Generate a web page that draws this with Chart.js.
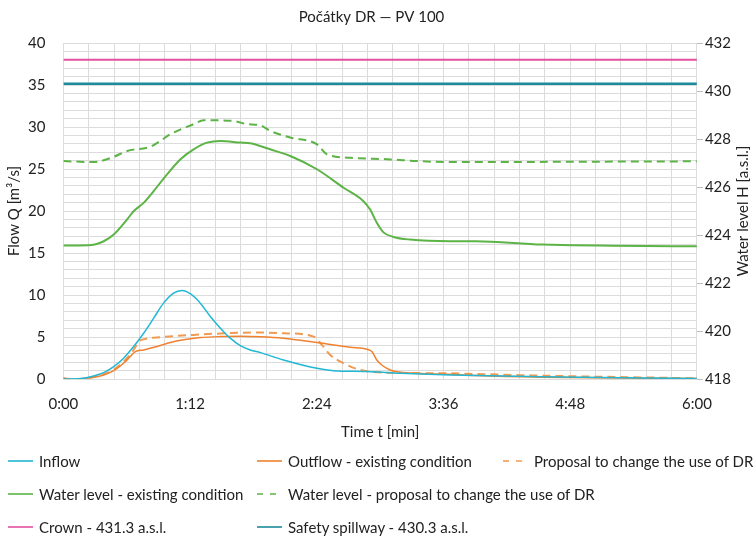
<!DOCTYPE html>
<html>
<head>
<meta charset="utf-8">
<script src="https://cdn.jsdelivr.net/npm/chart.js@4/dist/chart.umd.min.js"></script>
<style>
  body { margin: 0; background: #fff; }
  #wrap { position: relative; width: 755px; height: 537px; }
  #legend { position: absolute; left: 0; top: 0; width: 755px; height: 537px; pointer-events: none;
            font-family: Lato, sans-serif; font-size: 15px; color: #222; }
  .item { position: absolute; display: flex; align-items: center; white-space: nowrap; }
  .item svg { margin-right: 6px; }
</style>
</head>
<body>
<div id="wrap">
  <canvas id="myChart" width="755" height="537"></canvas>
  <div id="legend"></div>
</div>
<script>
// time axis (minutes) - gridline every 14.4 min, label every 72 min
let xTickLabels = ['0:00', '1:12', '2:24', '3:36', '4:48', '6:00'];

// Inflow [m3/s]
let inflowT = [0, 9.7, 17.2, 22.9, 28.6, 34.2, 39.9, 45.6, 51.3, 56.9, 62.6, 67.4, 72.1, 77.8, 83.5, 89.2, 94.8, 100.5, 106.2, 111.9, 125.1, 144.1, 153.5, 172.5, 191.4, 219.8, 272, 360];
let inflowQ = [0, 0.05, 0.36, 0.76, 1.47, 2.47, 3.86, 5.45, 7.24, 9.03, 10.23, 10.55, 10.15, 9.03, 7.44, 6.05, 4.86, 3.98, 3.46, 3.14, 2.27, 1.27, 0.99, 0.88, 0.68, 0.48, 0.28, 0.05];

// Outflow - existing condition [m3/s]
let outflowT = [0, 5.8, 17.2, 22.9, 28.6, 34.2, 38.0, 40.9, 45.6, 53.2, 60.8, 68.3, 77.8, 89.2, 100.5, 111.9, 125.1, 144.1, 163.0, 172.5, 175.3, 178.1, 180.9, 185.7, 193.3, 219.8, 234, 272, 360];
let outflowQ = [0.08, -0.05, 0.2, 0.48, 0.99, 1.87, 2.67, 3.26, 3.46, 3.86, 4.34, 4.66, 4.93, 5.05, 5.08, 5.03, 4.86, 4.34, 3.78, 3.54, 3.26, 2.27, 1.67, 1.07, 0.76, 0.56, 0.42, 0.22, 0.05];

// Outflow - proposal to change the use of DR [m3/s]
let proposalT = [0, 5.8, 17.2, 22.9, 28.6, 34.2, 39.9, 42.8, 46.6, 55.1, 74.0, 92.9, 111.9, 125.1, 142.2, 146.9, 151.6, 159.2, 168.7, 181.9, 219.8, 234, 272, 360];
let proposalQ = [0.08, -0.05, 0.25, 0.55, 1.1, 2.07, 3.46, 4.46, 4.78, 4.98, 5.25, 5.45, 5.53, 5.45, 5.05, 4.06, 2.87, 1.87, 1.07, 0.76, 0.68, 0.6, 0.4, 0.08];

// Water level - existing condition [m a.s.l.]
let levelT = [0, 14.2, 22.9, 28.6, 36.2, 39.9, 45.6, 51.3, 58.9, 66.4, 74.0, 81.6, 89.2, 100.5, 106.2, 117.5, 128.9, 144.1, 159.2, 170.5, 174.3, 178.1, 181.9, 187.6, 197, 219.8, 234, 272, 360];
let levelH = [423.56, 423.57, 423.74, 424.02, 424.65, 424.99, 425.34, 425.83, 426.53, 427.15, 427.57, 427.85, 427.92, 427.85, 427.82, 427.57, 427.29, 426.74, 425.97, 425.41, 425.06, 424.51, 424.11, 423.92, 423.81, 423.74, 423.74, 423.6, 423.53];

// Water level - proposal to change the use of DR [m a.s.l.]
let levelPropT = [0, 17.2, 28, 36.2, 49.4, 55.1, 60.8, 74.0, 79.7, 96.7, 104.3, 111.9, 117.5, 128.9, 144.1, 149.8, 163, 185.7, 200.9, 219.8, 360];
let levelPropH = [427.08, 427.04, 427.24, 427.50, 427.68, 427.92, 428.20, 428.62, 428.78, 428.75, 428.62, 428.57, 428.34, 428.06, 427.78, 427.36, 427.22, 427.15, 427.08, 427.04, 427.07];

let crownH = 431.3;
let spillwayH = 430.3;

function pts(xs, ys) {
  return xs.map(function (x, i) { return { x: x, y: ys[i] }; });
}

Chart.defaults.font.family = 'Lato, sans-serif';
Chart.defaults.color = '#222';

let datasets = [
  { label: 'Inflow', data: pts(inflowT, inflowQ), borderColor: '#22b7d3', borderWidth: 1.5, yAxisID: 'y' },
  { label: 'Outflow - existing condition', data: pts(outflowT, outflowQ), borderColor: '#ef8230', borderWidth: 1.5, yAxisID: 'y' },
  { label: 'Proposal to change the use of DR', data: pts(proposalT, proposalQ), borderColor: '#f09a52', borderWidth: 2, borderDash: [8, 5], yAxisID: 'y' },
  { label: 'Water level - existing condition', data: pts(levelT, levelH), borderColor: '#5cb346', borderWidth: 2, yAxisID: 'y1' },
  { label: 'Water level - proposal to change the use of DR', data: pts(levelPropT, levelPropH), borderColor: '#5cb346', borderWidth: 2, borderDash: [8, 5], yAxisID: 'y1' },
  { label: 'Crown - 431.3 a.s.l.', data: pts([0, 360], [crownH, crownH]), borderColor: '#e2509f', borderWidth: 2, yAxisID: 'y1' },
  { label: 'Safety spillway - 430.3 a.s.l.', data: pts([0, 360], [spillwayH, spillwayH]), borderColor: '#1d8b9b', borderWidth: 2.5, yAxisID: 'y1' }
];

// axis titles drawn by hand (both vertical ones read bottom-to-top)
let axisTitles = {
  id: 'axisTitles',
  afterDraw: function (chart) {
    let ctx = chart.ctx;
    let a = chart.chartArea;
    let midY = (a.top + a.bottom) / 2;
    ctx.save();
    ctx.font = '15px Lato, sans-serif';
    ctx.fillStyle = '#222';
    ctx.textAlign = 'center';
    ctx.textBaseline = 'middle';
    ctx.fillText('Time t [min]', (a.left + a.right) / 2, 432);
    ctx.translate(14, midY);
    ctx.rotate(-Math.PI / 2);
    ctx.fillText('Flow Q [m³/s]', 0, 0);
    ctx.restore();
    ctx.save();
    ctx.font = '15px Lato, sans-serif';
    ctx.fillStyle = '#222';
    ctx.textAlign = 'center';
    ctx.textBaseline = 'middle';
    ctx.translate(chart.width - 12, midY);
    ctx.rotate(-Math.PI / 2);
    ctx.fillText('Water level H [a.s.l.]', 0, 0);
    ctx.restore();
  }
};

new Chart('myChart', {
  type: 'line',
  data: { datasets: datasets },
  plugins: [axisTitles],
  options: {
    responsive: false,
    animation: false,
    devicePixelRatio: 1,
    elements: { point: { radius: 0 }, line: { cubicInterpolationMode: 'monotone' } },
    layout: { padding: { left: 10, right: 22, top: 0, bottom: 108 } },
    plugins: {
      legend: { display: false },
      tooltip: { enabled: false },
      title: { display: true, text: 'Počátky DR — PV 100', font: { size: 15, weight: 'normal' }, color: '#222', padding: { top: 8, bottom: 17 } }
    },
    scales: {
      x: {
        type: 'linear', min: 0, max: 360,
        afterBuildTicks: function (s) {
          let t = [];
          for (let k = 0; k <= 25; k++) t.push({ value: k * 14.4 });
          s.ticks = t;
        },
        ticks: { autoSkip: false, maxRotation: 0, font: { size: 15 }, padding: 16,
          callback: function (v, i) { return i % 5 === 0 ? xTickLabels[i / 5] : ''; } },
        grid: { color: '#dcdcdc', drawTicks: false },
        border: { display: false }
      },
      y: {
        position: 'left', min: 0, max: 40,
        afterBuildTicks: function (s) {
          let t = [];
          for (let k = 0; k <= 40; k++) t.push({ value: k });
          s.ticks = t;
        },
        ticks: { autoSkip: false, font: { size: 15 }, padding: 18,
          callback: function (v) { return v % 5 === 0 ? v : ''; } },
        grid: { color: '#dcdcdc', drawTicks: false },
        border: { display: false }
      },
      y1: {
        position: 'right', min: 418, max: 432,
        ticks: { stepSize: 2, font: { size: 15 }, padding: 2 },
        grid: { drawOnChartArea: false, color: '#bdbdbd', tickLength: 6 },
        border: { display: false }
      }
    }
  }
});

// legend laid out in fixed columns like the original
let legendPos = [[0, 0], [0, 1], [0, 2], [1, 0], [1, 1], [2, 0], [2, 1]];
let rowY = [461, 494, 527];
let colX = [8, 257, 503];
let leg = document.getElementById('legend');
datasets.forEach(function (d, i) {
  let p = legendPos[i];
  let el = document.createElement('div');
  el.className = 'item';
  el.style.left = colX[p[1]] + 'px';
  el.style.top = (rowY[p[0]] - 10) + 'px';
  el.style.height = '20px';
  let dash = d.borderDash ? 'stroke-dasharray="6,7"' : '';
  el.innerHTML = '<svg width="25" height="4"><line x1="0" y1="2" x2="25" y2="2" stroke="' + d.borderColor +
    '" stroke-width="1.6" ' + dash + '/></svg><span>' + d.label + '</span>';
  leg.appendChild(el);
});
</script>
</body>
</html>
